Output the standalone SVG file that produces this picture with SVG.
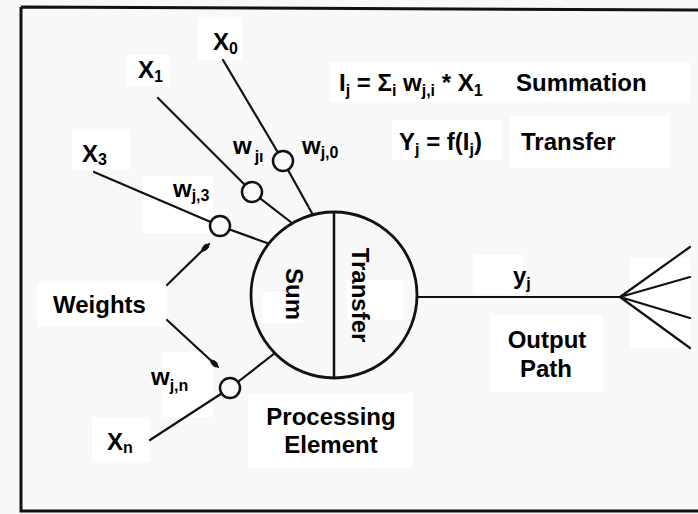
<svg xmlns="http://www.w3.org/2000/svg" width="698" height="514" viewBox="0 0 698 514">
<style>
.t{font-family:"Liberation Sans",Arial,sans-serif;font-weight:bold;font-size:24px;fill:#000}
.s{font-size:16px}
.ln{fill:none;stroke:#111;stroke-width:2.2;stroke-linecap:round;stroke-linejoin:round}
.wc{fill:#fafafa;stroke:#111;stroke-width:2.5}
.pad{fill:#fff}
</style>
<defs>
<marker id="tear" viewBox="0 -4 12 8" refX="11" refY="0" markerWidth="12" markerHeight="8" markerUnits="userSpaceOnUse" orient="auto">
<path d="M0,0 Q4,-3.8 9,-2.2 Q12,0 9,2.2 Q4,3.8 0,0 z" fill="#111"/>
</marker>
</defs>
<rect width="698" height="514" fill="#f8f8f8"/>
<g id="pads">
<rect class="pad" x="198" y="18" width="44" height="42"/>
<rect class="pad" x="127" y="55" width="42" height="32"/>
<rect class="pad" x="72" y="130" width="58" height="40"/>
<rect class="pad" x="330" y="62" width="360" height="40"/>
<rect class="pad" x="392" y="120" width="110" height="40"/>
<rect class="pad" x="510" y="116" width="160" height="52"/>
<rect class="pad" x="143" y="176" width="70" height="57"/>
<rect class="pad" x="37" y="282" width="130" height="45"/>
<rect class="pad" x="263" y="292" width="40" height="31"/>
<rect class="pad" x="347" y="280" width="56" height="40"/>
<rect class="pad" x="473" y="255" width="50" height="40"/>
<rect class="pad" x="490" y="315" width="113" height="77"/>
<rect class="pad" x="630" y="257" width="60" height="91"/>
<rect class="pad" x="248" y="393" width="165" height="75"/>
<rect class="pad" x="92" y="417" width="58" height="45"/>
<path class="pad" d="M162,352 L213,352 L213,417 L162,417 z"/>
</g>
<g id="frame">
<path d="M21,7 L698,10 M21,7 L21,511 L698,511" fill="none" stroke="#111" stroke-width="3"/>
</g>
<g id="connectors">
<polyline class="ln" points="223,60 283,161 313,215"/>
<polyline class="ln" points="158,98 252,192 292,223"/>
<polyline class="ln" points="94,172 220,226 267,243"/>
<polyline class="ln" points="150,440 230,388 275,353"/>
<line class="ln" x1="417" y1="297" x2="620" y2="297"/>
<path class="ln" d="M620,297 L690,247 M620,297 L690,277 M620,297 L690,318 M620,297 L690,348"/>
<line class="ln" x1="167" y1="285" x2="209" y2="244" marker-end="url(#tear)"/>
<line class="ln" x1="167" y1="320" x2="218" y2="367" marker-end="url(#tear)"/>
</g>
<g id="processing-element">
<circle cx="334" cy="295" r="83" fill="none" stroke="#111" stroke-width="2.8"/>
<line x1="334" y1="212" x2="334" y2="378" stroke="#111" stroke-width="2.5"/>
<text class="t" transform="translate(286,294) rotate(90)" text-anchor="middle">Sum</text>
<text class="t" transform="translate(352,295) rotate(90)" text-anchor="middle">Transfer</text>
<text class="t" x="331" y="425" text-anchor="middle">Processing</text>
<text class="t" x="331" y="453" text-anchor="middle">Element</text>
</g>
<g id="weight-0"><circle class="wc" cx="283" cy="161" r="10"/><text class="t" x="302" y="154">w<tspan class="s" dy="4">j,0</tspan></text></g>
<g id="weight-1"><circle class="wc" cx="252" cy="192" r="10"/><text class="t" x="233" y="154">w<tspan class="s" dx="3" dy="8">jı</tspan></text></g>
<g id="weight-3"><circle class="wc" cx="220" cy="226" r="10"/><text class="t" x="173" y="197">w<tspan class="s" dy="4">j,3</tspan></text></g>
<g id="weight-n"><circle class="wc" cx="230" cy="388" r="10"/><text class="t" x="151" y="385">w<tspan class="s" dy="6">j,n</tspan></text></g>
<g id="input-x0"><text class="t" x="213" y="50">X<tspan class="s" dy="4">0</tspan></text></g>
<g id="input-x1"><text class="t" x="138" y="78">X<tspan class="s" dy="4">1</tspan></text></g>
<g id="input-x3"><text class="t" x="82" y="162">X<tspan class="s" dy="3">3</tspan></text></g>
<g id="input-xn"><text class="t" x="107" y="450">X<tspan class="s" dy="3">n</tspan></text></g>
<g id="weights-label"><text class="t" x="53" y="313">Weights</text></g>
<g id="output"><text class="t" x="513" y="284">y<tspan class="s" dy="5">j</tspan></text>
<text class="t" x="547" y="348" text-anchor="middle">Output</text>
<text class="t" x="546" y="377" text-anchor="middle">Path</text></g>
<g id="formulas">
<text class="t" x="339" y="91">I<tspan class="s" dy="5">j</tspan><tspan dy="-5"> = Σ</tspan><tspan class="s" dy="5">i</tspan><tspan dy="-5"> w</tspan><tspan class="s" dy="5">j,i</tspan><tspan dy="-5"> * X</tspan><tspan class="s" dy="5">1</tspan></text>
<text class="t" x="516" y="91">Summation</text>
<text class="t" x="399" y="150">Y<tspan class="s" dy="5">j</tspan><tspan dy="-5"> = f(I</tspan><tspan class="s" dy="5">j</tspan><tspan dy="-5">)</tspan></text>
<text class="t" x="521" y="150">Transfer</text>
</g>
</svg>
